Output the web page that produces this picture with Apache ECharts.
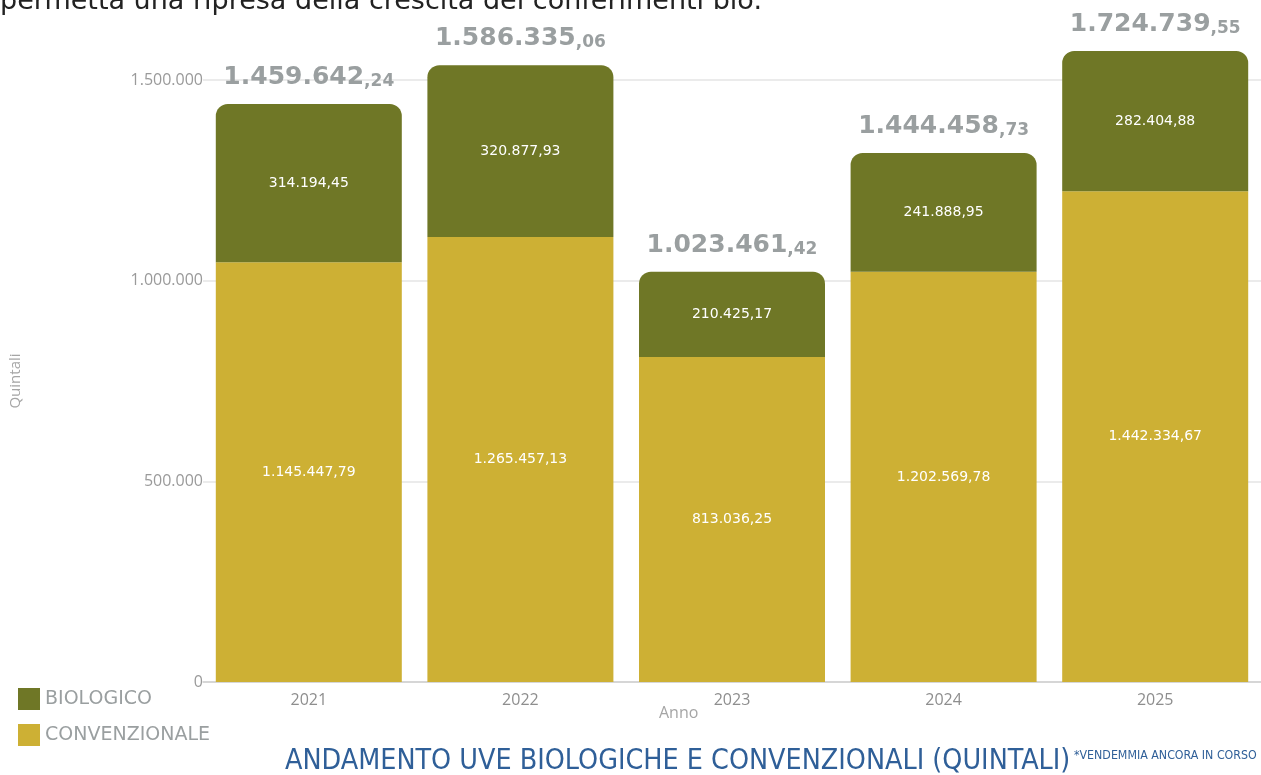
<!DOCTYPE html>
<html>
<head>
<meta charset="utf-8">
<script src="https://cdn.jsdelivr.net/npm/echarts@6/dist/echarts.min.js"></script>
<style>
html, body { margin: 0; padding: 0; background: #fff; }
#chart { width: 1261px; height: 775px; }
</style>
</head>
<body>
<div id="chart"></div>
<script>
// anni
var anni = ['2021', '2022', '2023', '2024', '2025'];
var convenzionale = [1046000, 1109000, 810000, 1022000, 1223000];
var biologico = [394000, 428000, 212000, 296000, 349000];
// etichette riportate sulle barre
var convLabel = ['1.145.447,79', '1.265.457,13', '813.036,25', '1.202.569,78', '1.442.334,67'];
var bioLabel = ['314.194,45', '320.877,93', '210.425,17', '241.888,95', '282.404,88'];
var totLabel = ['1.459.642,24', '1.586.335,06', '1.023.461,42', '1.444.458,73', '1.724.739,55'];
var yTicks = [0, 500000, 1000000, 1500000];

var C_BIO = '#6f7726';
var C_CONV = '#cdb034';
var GREY = '#9a9fa0';

function fmt(v) {
    return String(v).replace(/\B(?=(\d{3})+(?!\d))/g, '.');
}

var myChart = echarts.init(document.getElementById('chart'));

var option = {
    backgroundColor: '#fff',
    animation: false,
    grid: { left: 202, width: 1060, top: 80, bottom: 93 },
    legend: {
        data: ['BIOLOGICO', 'CONVENZIONALE'],
        orient: 'vertical',
        left: 13,
        top: 683,
        icon: 'rect',
        itemWidth: 22,
        itemHeight: 22,
        itemGap: 14,
        textStyle: { fontFamily: 'DejaVu Sans', fontSize: 19, color: GREY }
    },
    xAxis: {
        type: 'category',
        data: anni,
        axisLine: { lineStyle: { color: '#cfcfcf', width: 1.5 } },
        axisTick: { show: false },
        axisLabel: { fontFamily: 'Open Sans', fontSize: 16, color: '#8e8e8e', margin: 10 }
    },
    yAxis: {
        type: 'value',
        min: 0,
        max: yTicks[yTicks.length - 1],
        interval: 500000,
        name: 'Quintali',
        nameLocation: 'middle',
        nameGap: 180,
        nameTextStyle: { fontFamily: 'Open Sans', fontSize: 15, color: '#a5a5a5' },
        axisLine: { show: false },
        axisTick: { show: false },
        splitLine: { lineStyle: { color: '#e4e4e4', width: 1.5 } },
        axisLabel: {
            fontFamily: 'Open Sans', fontSize: 16, color: '#9a9a9a', margin: 0,
            formatter: function(v) { return fmt(v); }
        }
    },
    series: [
        {
            name: 'CONVENZIONALE',
            type: 'bar',
            stack: 'tot',
            barWidth: 186,
            clip: false,
            data: convenzionale,
            itemStyle: { color: C_CONV },
            label: {
                show: true,
                position: 'inside',
                fontFamily: 'DejaVu Sans',
                fontSize: 14,
                color: '#fff',
                formatter: function(p) { return convLabel[p.dataIndex]; }
            }
        },
        {
            name: 'BIOLOGICO',
            type: 'bar',
            stack: 'tot',
            clip: false,
            data: biologico,
            itemStyle: { color: C_BIO, borderRadius: [12, 12, 0, 0] },
            label: {
                show: true,
                position: 'inside',
                fontFamily: 'DejaVu Sans',
                fontSize: 14,
                color: '#fff',
                formatter: function(p) { return bioLabel[p.dataIndex]; }
            }
        },
        {
            name: 'totale',
            type: 'bar',
            stack: 'tot',
            clip: false,
            data: anni.map(function() { return 0; }),
            itemStyle: { color: 'transparent' },
            label: {
                show: true,
                position: 'top',
                distance: 14,
                formatter: function(p) {
                    var s = totLabel[p.dataIndex].split(',');
                    return '{a|' + s[0] + '}{b|,' + s[1] + '}';
                },
                rich: {
                    a: { fontFamily: 'DejaVu Sans', fontWeight: 'bold', fontSize: 25, color: GREY, verticalAlign: 'bottom', lineHeight: 28 },
                    b: { fontFamily: 'DejaVu Sans', fontWeight: 'bold', fontSize: 17, color: GREY, verticalAlign: 'bottom', lineHeight: 28 }
                }
            }
        }
    ],
    graphic: [
        {
            type: 'text',
            left: 0,
            top: -12,
            style: { text: 'permetta una ripresa della crescita dei conferimenti bio.', font: '27px "DejaVu Sans"', fill: '#222' }
        },
        {
            type: 'text',
            left: 659,
            top: 705,
            style: { text: 'Anno', font: '16px "Open Sans"', fill: '#a5a5a5' }
        },
        {
            type: 'text',
            left: 285,
            top: 748,
            style: { text: 'ANDAMENTO UVE BIOLOGICHE E CONVENZIONALI (QUINTALI)', font: '28.4px "DejaVu Sans Condensed"', fill: '#2f5f98' }
        },
        {
            type: 'text',
            left: 1074,
            top: 750,
            style: { text: '*VENDEMMIA ANCORA IN CORSO', font: '12.3px "DejaVu Sans Condensed"', fill: '#2f5f98' }
        }
    ]
};

myChart.setOption(option);
</script>
</body>
</html>
